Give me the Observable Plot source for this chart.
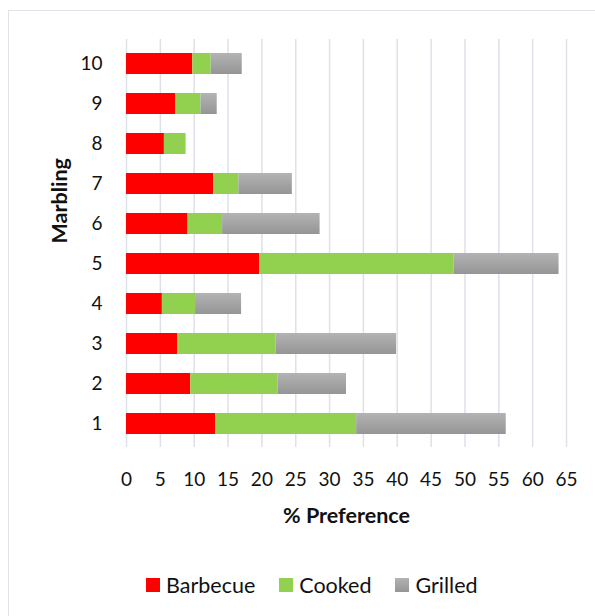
<!DOCTYPE html>
<html>
<head>
<meta charset="utf-8">
<script src="https://cdn.jsdelivr.net/npm/d3@7"></script>
<script src="https://cdn.jsdelivr.net/npm/@observablehq/plot@0.6"></script>
<style>
  html, body { margin: 0; padding: 0; background: #fff; }
  #wrap { position: relative; width: 595px; height: 616px; overflow: hidden; font-family: Lato, "Open Sans", sans-serif; }
  #border { position: absolute; left: 8px; top: 10px; width: 600px; height: 620px; border: 1.5px solid #dfe3ea; box-sizing: border-box; }
  #chart { position: absolute; left: 0; top: 0; }
  #legend { position: absolute; top: 572px; left: 146px; display: flex; align-items: center; font-size: 21.5px; color: #111; white-space: nowrap; }
  .item { display: flex; align-items: center; }
  .sw { width: 14px; height: 14px; margin-right: 6px; }
</style>
</head>
<body>
<div id="wrap">
  <div id="border"></div>
  <div id="chart"></div>
  <div id="legend"></div>
</div>
<script>
const marbling = [1, 2, 3, 4, 5, 6, 7, 8, 9, 10];
const barbecue = [13.2, 9.5, 7.6, 5.3, 19.7, 9.1, 12.9, 5.6, 7.3, 9.8];
const cooked   = [20.8, 12.9, 14.5, 4.9, 28.7, 5.1, 3.7, 3.2, 3.7, 2.7];
const grilled  = [22.1, 10.1, 17.8, 6.8, 15.5, 14.4, 7.9, 0, 2.4, 4.6];
const seriesNames = ["Barbecue", "Cooked", "Grilled"];
const seriesColors = ["#ff0000", "#92d050", "url(#grayGrad)"];
const xTicks = [0, 5, 10, 15, 20, 25, 30, 35, 40, 45, 50, 55, 60, 65];

const rows = [];
marbling.forEach((m, i) => {
  rows.push({m, series: "Barbecue", v: barbecue[i]});
  rows.push({m, series: "Cooked", v: cooked[i]});
  rows.push({m, series: "Grilled", v: grilled[i]});
});

const gradDefs = () => {
  const ns = "http://www.w3.org/2000/svg";
  const g = document.createElementNS(ns, "defs");
  g.innerHTML = `<linearGradient id="grayGrad" x1="0" y1="0" x2="0" y2="1">
    <stop offset="0" stop-color="#b3b3b3"/><stop offset="1" stop-color="#959595"/></linearGradient>`;
  return g;
};

const plot = Plot.plot({
  width: 595,
  height: 540,
  marginLeft: 126,
  marginRight: 29,
  marginTop: 39,
  marginBottom: 93,
  style: {fontFamily: "Lato, 'Open Sans', sans-serif", fontSize: "19px", color: "#111", background: "transparent"},
  x: {domain: [0, 65], ticks: xTicks, label: null, tickSize: 0, tickPadding: 26},
  y: {domain: marbling.slice().reverse(), paddingInner: 0.48, paddingOuter: 0.24, label: null, tickSize: 0, tickPadding: 24},
  color: {domain: seriesNames, range: seriesColors},
  marks: [
    gradDefs,
    Plot.ruleX(xTicks, {stroke: "#dde1e8", strokeWidth: 1.5}),
    Plot.barX(rows, Plot.stackX({x: "v", y: "m", fill: "series", order: seriesNames})),
    Plot.axisX({ticks: xTicks, tickSize: 0, tickPadding: 25, label: null, fontSize: 19}),
    Plot.axisY({tickSize: 0, tickPadding: 24, label: null, fontSize: 19}),
    Plot.text(["% Preference"], {frameAnchor: "bottom", dy: 75, fontWeight: "bold", fontSize: 21.5}),
    Plot.text(["Marbling"], {frameAnchor: "left", dx: -66, rotate: -90, fontWeight: "bold", fontSize: 21.5})
  ]
});
document.getElementById("chart").appendChild(plot);

const legend = document.getElementById("legend");
const swatchCss = ["#ff0000", "#92d050", "linear-gradient(#b3b3b3, #959595)"];
seriesNames.forEach((s, i) => {
  const item = document.createElement("div");
  item.className = "item";
  item.style.marginRight = i < 2 ? "24px" : "0";
  const sw = document.createElement("div");
  sw.className = "sw";
  sw.style.background = swatchCss[i];
  const t = document.createElement("span");
  t.textContent = s;
  item.appendChild(sw);
  item.appendChild(t);
  legend.appendChild(item);
});
</script>
</body>
</html>
